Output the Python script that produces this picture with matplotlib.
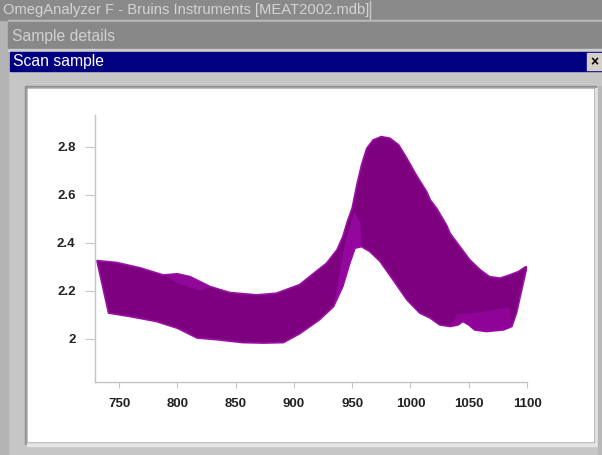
import matplotlib.pyplot as plt
from matplotlib.patches import Rectangle

plt.rcParams["font.family"] = ["Liberation Sans", "DejaVu Sans"]

# upper (back) edge of the scan band
upper_x = [731, 748, 768, 788, 800, 811, 828, 845, 868, 885, 905, 917, 928, 937,
           942, 946, 950, 954, 958, 962.5, 968, 975, 982.5, 990, 997, 1005, 1014,
           1017, 1022.5, 1031, 1034, 1042.5, 1051, 1060, 1068, 1077, 1085, 1092.5,
           1098, 1100]
upper_y = [2.325, 2.317, 2.295, 2.265, 2.27, 2.258, 2.217, 2.192, 2.182, 2.189,
           2.225, 2.272, 2.314, 2.37, 2.425, 2.49, 2.544, 2.64, 2.723, 2.793,
           2.828, 2.842, 2.835, 2.807, 2.751, 2.682, 2.612, 2.578, 2.543, 2.473,
           2.439, 2.383, 2.328, 2.286, 2.258, 2.252, 2.265, 2.279, 2.297, 2.30]
# lower (front) edge of the scan band
lower_x = [741, 759, 782, 800, 817, 834, 856, 874, 891, 905, 922, 934, 942, 948,
           952.5, 958, 965, 974, 985, 997, 1008, 1017, 1025, 1034, 1041, 1045,
           1050, 1055, 1065, 1080, 1087, 1091]
lower_y = [2.106, 2.092, 2.071, 2.043, 2.002, 1.995, 1.983, 1.981, 1.983, 2.02,
           2.078, 2.133, 2.217, 2.314, 2.377, 2.383, 2.363, 2.321, 2.245, 2.161,
           2.106, 2.085, 2.057, 2.05, 2.057, 2.071, 2.057, 2.036, 2.029, 2.036,
           2.05, 2.106]

xticks = [750, 800, 850, 900, 950, 1000, 1050, 1100]
yticks = [2, 2.2, 2.4, 2.6, 2.8]
ytick_labels = ["2", "2.2", "2.4", "2.6", "2.8"]

W, H = 602, 455
fig = plt.figure(figsize=(W / 100, H / 100), dpi=100)

# window chrome drawn in pixel coordinates
bg = fig.add_axes([0, 0, 1, 1])
bg.set_xlim(0, W)
bg.set_ylim(H, 0)
bg.axis("off")
bg.add_patch(Rectangle((0, 0), W, H, color="#c6c6c6"))
bg.add_patch(Rectangle((0, 20), 8, H, color="#b4b4b4"))
bg.add_patch(Rectangle((0, 0), W, 20, color="#8a8a8a"))
bg.add_patch(Rectangle((8, 20), W, 2, color="#b8b8b8"))
bg.add_patch(Rectangle((8, 22), W, 27, color="#888888"))
bg.add_patch(Rectangle((8, 49), W, 2, color="#cccccc"))
bg.add_patch(Rectangle((10, 52), W, 19, color="#000080"))
bg.add_patch(Rectangle((587, 53), 15, 17, color="#d4d0c8"))
bg.plot([370, 370], [1, 19], color="#c8c8c8", lw=1)
# sunken white panel
bg.add_patch(Rectangle((25, 86), 571, 358, color="#8e8e8e"))
bg.add_patch(Rectangle((27, 88), 571, 358, color="#e6e6e6"))
bg.add_patch(Rectangle((27, 88), 567, 354, color="#b0b0b0"))
bg.add_patch(Rectangle((28, 89), 565, 352, color="white"))
bg.add_patch(Rectangle((598, 86), 4, 369, color="#b8b8b8"))
bg.text(3, 10, "OmegAnalyzer F - Bruins Instruments [MEAT2002.mdb]",
        color="#d4d4d4", fontsize=10.6, va="center")
bg.text(12, 36, "Sample details", color="#d0d0d0", fontsize=11.3, va="center")
bg.text(13, 61.5, "Scan sample", color="white", fontsize=11.3, va="center")
bg.text(594.5, 62, "\u00d7", color="black", fontsize=10, fontweight="bold",
        ha="center", va="center")

# chart
ax = fig.add_axes([95 / W, (H - 381.7) / H, (527 - 95) / W, (381.7 - 115) / H])
ax.set_facecolor("white")
poly_x = upper_x + lower_x[::-1]
poly_y = upper_y + lower_y[::-1]
ax.fill(poly_x, poly_y, facecolor="#7d007f", edgecolor="#9a10a4", lw=1.2)

# lighter fold near the front ridge
ax.fill([934, 942, 948, 952.5, 958, 957, 952, 944],
        [2.133, 2.217, 2.314, 2.377, 2.383, 2.48, 2.53, 2.40],
        facecolor="#9a0aa6", edgecolor="none", alpha=0.8)
ax.fill([1034, 1041, 1045, 1050, 1055, 1065, 1080, 1087, 1085, 1060, 1040],
        [2.05, 2.057, 2.071, 2.057, 2.036, 2.029, 2.036, 2.05, 2.13, 2.11, 2.10],
        facecolor="#9405a0", edgecolor="none", alpha=0.8)
ax.fill([790, 800, 811, 828, 820, 800],
        [2.262, 2.27, 2.258, 2.217, 2.20, 2.23],
        facecolor="#950aa0", edgecolor="none", alpha=0.8)

ax.set_xlim(729.4, 1100)
ax.set_ylim(1.82, 2.932)
ax.set_xticks(xticks)
ax.set_yticks(yticks)
ax.set_yticklabels(ytick_labels)
for s in ["top", "right"]:
    ax.spines[s].set_visible(False)
for s in ["left", "bottom"]:
    ax.spines[s].set_color("#c4c4c4")
    ax.spines[s].set_linewidth(1)
ax.tick_params(axis="x", direction="out", length=4, color="#c4c4c4",
               pad=8, labelsize=9.5)
ax.tick_params(axis="y", direction="out", length=7, color="#c4c4c4",
               pad=7, labelsize=9.5)
for lab in ax.get_xticklabels() + ax.get_yticklabels():
    lab.set_fontweight("bold")
    lab.set_color("#222222")

fig.savefig("out.png", dpi=100)
